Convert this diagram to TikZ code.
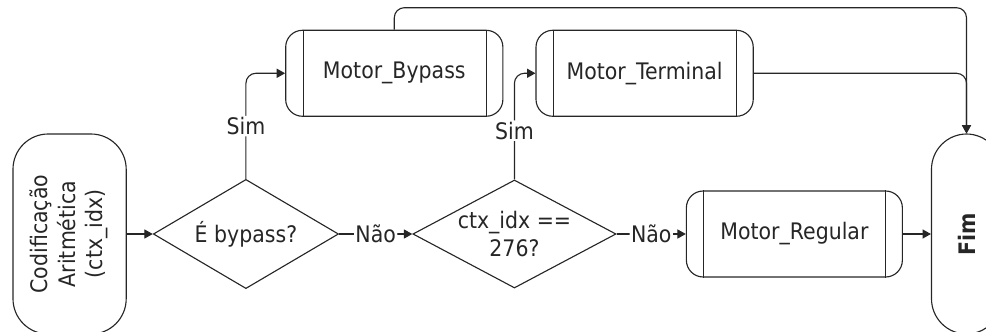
\documentclass[tikz,border=0pt]{standalone}
\usepackage{fontspec}
\setmainfont{DejaVu Sans}[FakeStretch=0.9]
\usetikzlibrary{positioning, shapes.geometric, arrows.meta, calc}

\begin{document}
\begin{tikzpicture}[
  font=\fontsize{16.2}{19.5}\selectfont,
  line width=0.8pt, draw=black!85, text=black!85,
  node distance=0.7cm and 1.6cm,
  terminal/.style={
    draw, rounded corners=0.88cm, align=center, inner sep=0pt
  },
  decision/.style={
    draw, diamond, aspect=1.8, inner sep=0pt, align=center
  },
  subproc/.style={
    draw, rounded corners=0.42cm, minimum width=5.43cm,
    minimum height=2.15cm, align=center
  },
  arrow/.style={-{Triangle[length=6pt, width=6.5pt]}, rounded corners=0.25cm},
  arrowlabel/.style={fill=white, inner sep=1pt},
]

% page frame (the end nodes run off the edges)
\clip (-1.74,-2.43) rectangle (22.91,5.85);

% Main row (left -> right)
\node[terminal, minimum width=2.83cm, minimum height=5cm] (start)
  {\rotatebox{90}{\begin{tabular}{@{}c@{}}Codificação\\Aritmética\\(ctx\_idx)\end{tabular}}};
\node[decision, minimum width=4.63cm, minimum height=2.73cm, right=0.65cm of start] (bypassq) {É bypass?};
\node[decision, minimum width=5.08cm, minimum height=2.7cm, right=1.83cm of bypassq] (ctxq) {ctx\_idx ==\\276?};
\node[subproc, minimum width=5.4cm, right=1.73cm of ctxq] (regular) {Motor\_Regular};
\node[terminal, minimum width=1.75cm, minimum height=5cm, right=0.7cm of regular] (fim)
  {\rotatebox{90}{\bfseries Fim}};

% Top row
\node[subproc, above right=1.55cm and 0.98cm of bypassq.north] (bypass) {Motor\_Bypass};
\node[subproc, right=0.8cm of bypass] (terminal) {Motor\_Terminal};

% side bars of the sub-process boxes
\foreach \n in {bypass, terminal, regular}{
  \draw ([xshift=0.45cm]\n.north west) -- ([xshift=0.45cm]\n.south west);
  \draw ([xshift=-0.43cm]\n.north east) -- ([xshift=-0.43cm]\n.south east);
}

% Arrows: Sim goes up, Não goes right
\draw[arrow] (start) -- (bypassq);
\draw[arrow] (bypassq) -- node[arrowlabel] {Não} (ctxq);
\draw[arrow] (ctxq) -- node[arrowlabel] {Não} (regular);
\draw[arrow] (regular) -- (fim);
\draw[arrow] (bypassq.north) |- node[arrowlabel, pos=0.25] {Sim} (bypass.west);
\draw[arrow] (ctxq.north) |- node[arrowlabel, pos=0.23] {Sim} (terminal.west);
\draw[arrow] (bypass.north) -- ++(0,0.55) -| (fim.north);
\draw[arrow] (terminal.east) -| (fim.north);

\end{tikzpicture}
\end{document}
